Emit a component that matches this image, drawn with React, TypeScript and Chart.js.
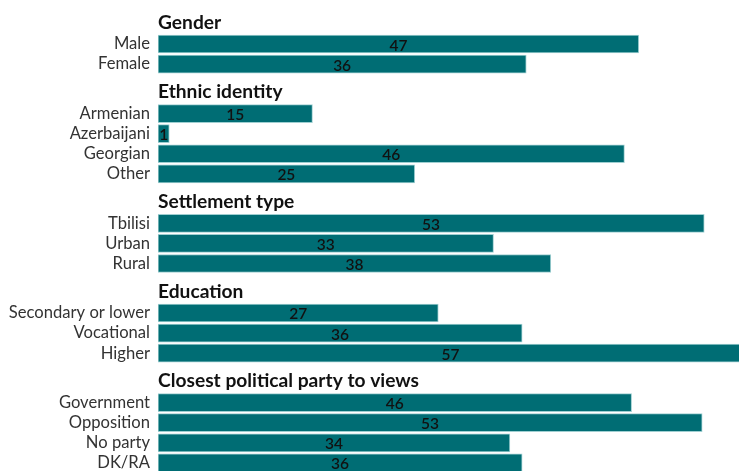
import React, { useEffect, useRef } from "react";
import { Chart, registerables } from "chart.js";

Chart.register(...registerables);

const groupTitles = [
  "Gender",
  "Ethnic identity",
  "Settlement type",
  "Education",
  "Closest political party to views",
];

const genderCategories = ["Male", "Female"];
const genderValues = [47.0, 36.0];

const ethnicCategories = ["Armenian", "Azerbaijani", "Georgian", "Other"];
const ethnicValues = [15.1, 1.1, 45.6, 25.1];

const settlementCategories = ["Tbilisi", "Urban", "Rural"];
const settlementValues = [53.4, 32.8, 38.4];

const educationCategories = ["Secondary or lower", "Vocational", "Higher"];
const educationValues = [27.4, 35.6, 57.2];

const partyCategories = ["Government", "Opposition", "No party", "DK/RA"];
const partyValues = [46.3, 53.2, 34.4, 35.6];

const groupCategories = [
  genderCategories,
  ethnicCategories,
  settlementCategories,
  educationCategories,
  partyCategories,
];
const groupValues = [
  genderValues,
  ethnicValues,
  settlementValues,
  educationValues,
  partyValues,
];

// layout constants (row units)
const GROUP_GAP = 2.46;
const HEADING_OFFSET = 1.1;

export default function App() {
  const ref = useRef<HTMLCanvasElement | null>(null);

  useEffect(() => {
    if (!ref.current) return;

    const points: { x: number; y: number }[] = [];
    const tickLabels: string[] = [];
    const tickPositions: number[] = [];
    const headings: { text: string; pos: number }[] = [];
    let pos = 0;
    groupCategories.forEach((cats, gi) => {
      if (gi > 0) pos += GROUP_GAP - 1;
      headings.push({ text: groupTitles[gi], pos: pos - HEADING_OFFSET });
      cats.forEach((c, i) => {
        points.push({ x: groupValues[gi][i], y: pos });
        tickLabels.push(c);
        tickPositions.push(pos);
        pos += 1;
      });
    });
    const yMin = -2.19;
    const yMax = yMin + 471 / 20.1;

    const headingPlugin = {
      id: "headings",
      afterDatasetsDraw(chart: any) {
        const ctx = chart.ctx;
        const yScale = chart.scales.y;
        const left = chart.chartArea.left;
        ctx.save();
        ctx.fillStyle = "#111111";
        ctx.font = "bold 19.2px Lato";
        ctx.textAlign = "left";
        ctx.textBaseline = "middle";
        headings.forEach((h) => {
          ctx.fillText(h.text, left, yScale.getPixelForValue(h.pos) + 0.5);
        });
        // value labels
        const meta = chart.getDatasetMeta(0);
        ctx.font = "600 15.5px Lato";
        ctx.textAlign = "center";
        ctx.fillStyle = "#111111";
        meta.data.forEach((el: any, i: number) => {
          const v = points[i].x;
          const cx = (el.x + el.base) / 2;
          ctx.fillText(String(Math.round(v)), cx, el.y + 1.5);
        });
        ctx.restore();
      },
    };

    const chart = new Chart(ref.current, {
      type: "bar",
      data: {
        datasets: [
          {
            data: points,
            backgroundColor: "#006d74",
            borderColor: "#9fcfd1",
            borderWidth: 1,
            barThickness: 18,
            borderSkipped: false,
          } as any,
        ],
      },
      options: {
        indexAxis: "y",
        responsive: false,
        animation: false,
        layout: { padding: 0 },
        plugins: {
          legend: { display: false },
          tooltip: { enabled: false },
        },
        scales: {
          x: {
            type: "linear",
            display: false,
            min: 0,
            max: 56.8,
          },
          y: {
            type: "linear",
            reverse: true,
            offset: false,
            min: yMin,
            max: yMax,
            grid: { display: false, drawTicks: false },
            border: { display: false },
            afterFit: (scale: any) => {
              scale.width = 158;
              scale.paddingTop = 0;
              scale.paddingBottom = 0;
            },
            afterBuildTicks: (scale: any) => {
              scale.ticks = tickPositions.map((v) => ({ value: v }));
            },
            ticks: {
              padding: 8,
              autoSkip: false,
              color: "#333333",
              font: { family: "Lato", size: 16.6 },
              callback: (_v: any, i: number) => tickLabels[i],
            },
          },
        },
      },
      plugins: [headingPlugin],
    });

    return () => chart.destroy();
  }, []);

  return (
    <div
      style={{
        position: "absolute",
        left: 0,
        top: 0,
        width: 739,
        height: 471,
        background: "#ffffff",
      }}
    >
      <canvas ref={ref} width={739} height={471} />
    </div>
  );
}
